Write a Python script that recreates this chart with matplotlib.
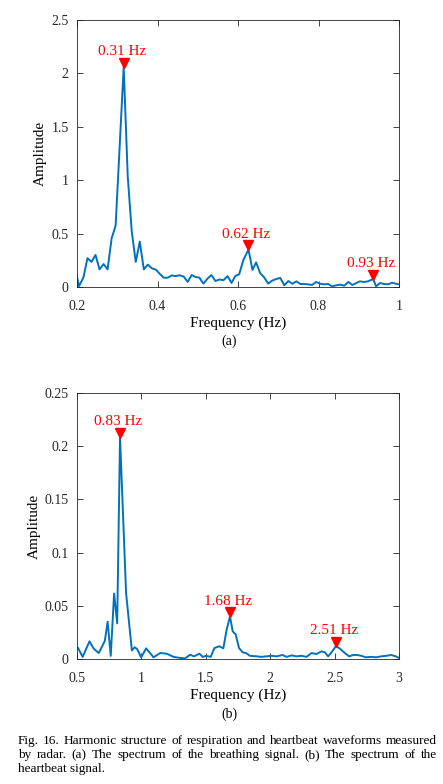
import numpy as np
import matplotlib
matplotlib.use('Agg')
import matplotlib.pyplot as plt
from matplotlib.transforms import offset_copy

plt.rcParams['font.family'] = ['Liberation Serif', 'DejaVu Serif']
plt.rcParams['mathtext.fontset'] = 'stix'

#%% (a) breathing spectrum
freq_a = [0.200, 0.205, 0.216, 0.226, 0.236, 0.246, 0.256, 0.266, 0.276, 0.286,
          0.296, 0.316, 0.326, 0.336, 0.346, 0.356, 0.366, 0.376, 0.386, 0.396,
          0.405, 0.415, 0.425, 0.435, 0.445, 0.455, 0.465, 0.475, 0.485, 0.494,
          0.504, 0.514, 0.524, 0.534, 0.544, 0.554, 0.564, 0.574, 0.584, 0.593,
          0.603, 0.613, 0.626, 0.636, 0.645, 0.655, 0.665, 0.675, 0.685, 0.695,
          0.705, 0.715, 0.725, 0.735, 0.745, 0.755, 0.764, 0.774, 0.784, 0.794,
          0.804, 0.814, 0.824, 0.834, 0.844, 0.854, 0.864, 0.874, 0.884, 0.894,
          0.903, 0.913, 0.923, 0.936, 0.943, 0.953, 0.963, 0.973, 0.983, 0.993,
          1.000]
amp_a = [0.095, 0.008, 0.090, 0.270, 0.235, 0.300, 0.165, 0.215, 0.165, 0.455,
         0.575, 2.060, 1.040, 0.520, 0.235, 0.425, 0.165, 0.210, 0.175, 0.162,
         0.125, 0.088, 0.086, 0.108, 0.102, 0.110, 0.098, 0.048, 0.112, 0.094,
         0.088, 0.032, 0.078, 0.112, 0.056, 0.070, 0.064, 0.102, 0.038, 0.102,
         0.120, 0.250, 0.350, 0.160, 0.230, 0.130, 0.090, 0.032, 0.060, 0.075,
         0.085, 0.016, 0.056, 0.030, 0.053, 0.028, 0.028, 0.025, 0.019, 0.047,
         0.030, 0.025, 0.028, 0.006, 0.016, 0.022, 0.012, 0.047, 0.019, 0.037,
         0.053, 0.047, 0.053, 0.075, 0.006, 0.037, 0.028, 0.025, 0.040, 0.030,
         0.025]
peaks_a = [0.316, 0.626, 0.936]
peak_labels_a = ['0.31 Hz', '0.62 Hz', '0.93 Hz']

#%% (b) heartbeat spectrum
freq_b = [0.500, 0.508, 0.544, 0.597, 0.629, 0.669, 0.716, 0.738, 0.762, 0.788,
          0.812, 0.834, 0.881, 0.926, 0.947, 0.967, 0.998, 1.037, 1.094, 1.146,
          1.197, 1.249, 1.300, 1.339, 1.378, 1.409, 1.450, 1.476, 1.502, 1.538,
          1.567, 1.605, 1.636, 1.662, 1.688, 1.709, 1.732, 1.758, 1.786, 1.812,
          1.843, 1.895, 1.933, 1.967, 2.011, 2.050, 2.096, 2.127, 2.166, 2.205,
          2.243, 2.282, 2.321, 2.360, 2.398, 2.424, 2.450, 2.476, 2.511, 2.545,
          2.579, 2.613, 2.644, 2.675, 2.708, 2.742, 2.786, 2.824, 2.863, 2.902,
          2.940, 2.974, 3.000]
amp_b = [0.0110, 0.0103, 0.0020, 0.0166, 0.0098, 0.0056, 0.0170, 0.0350, 0.0030, 0.0615,
         0.0335, 0.2085, 0.0620, 0.0080, 0.0110, 0.0094, 0.0016, 0.0100, 0.0016, 0.0056,
         0.0050, 0.0020, 0.0010, 0.0006, 0.0040, 0.0025, 0.0050, 0.0020, 0.0030, 0.0020,
         0.0103, 0.0120, 0.0100, 0.0276, 0.0400, 0.0260, 0.0230, 0.0103, 0.0063, 0.0056,
         0.0030, 0.0025, 0.0020, 0.0025, 0.0030, 0.0025, 0.0038, 0.0020, 0.0034, 0.0025,
         0.0030, 0.0020, 0.0056, 0.0047, 0.0072, 0.0063, 0.0025, 0.0063, 0.0122, 0.0094,
         0.0056, 0.0025, 0.0038, 0.0038, 0.0030, 0.0016, 0.0020, 0.0016, 0.0025, 0.0030,
         0.0038, 0.0025, 0.0010]
peaks_b = [0.834, 1.688, 2.511]
peak_labels_b = ['0.83 Hz', '1.68 Hz', '2.51 Hz']

caption = ['Fig. 16.  Harmonic structure of respiration and heartbeat waveforms measured',
           'by radar. (a) The spectrum of the breathing signal. (b) The spectrum of the',
           'heartbeat signal.']

W, H = 443, 784
fig = plt.figure(figsize=(W/100, H/100), dpi=100)
line_col = '#0072BD'


def spectrum(ax, f, a, peaks, labels, xlim, ylim, xticks, yticks, xtl, ytl):
    ax.plot(f, a, color=line_col, lw=1.4)
    mk_trans = offset_copy(ax.transData, fig=fig, y=3.2, units='points')
    for p, lab in zip(peaks, labels):
        pa = a[f.index(p)]
        ax.plot(p, pa, 'v', color='red', ms=7, transform=mk_trans, clip_on=False)
        ax.annotate(lab, (p, pa), xytext=(-1.5, 11), textcoords='offset points',
                    ha='center', va='center', color='red', fontsize=11)
    ax.set_xlim(xlim)
    ax.set_ylim(ylim)
    ax.set_xticks(xticks)
    ax.set_xticklabels(xtl)
    ax.set_yticks(yticks)
    ax.set_yticklabels(ytl)
    ax.tick_params(direction='in', top=True, right=True, length=4, width=0.6,
                   labelsize=10, colors='#262626')
    ax.tick_params(axis='x', pad=9)
    ax.tick_params(axis='y', pad=6)
    for s in ax.spines.values():
        s.set_linewidth(0.6)
        s.set_color('#262626')
    ax.set_xlabel('Frequency (Hz)', fontsize=11, labelpad=3)
    ax.set_ylabel('Amplitude', fontsize=11, labelpad=3)


ax1 = fig.add_axes([77/W, 1-287/H, 322/W, 267/H])
spectrum(ax1, freq_a, amp_a, peaks_a, peak_labels_a, (0.2, 1), (0, 2.5),
         [0.2, 0.4, 0.6, 0.8, 1], [0, 0.5, 1, 1.5, 2, 2.5],
         ['0.2', '0.4', '0.6', '0.8', '1'], ['0', '0.5', '1', '1.5', '2', '2.5'])

ax2 = fig.add_axes([77/W, 1-659/H, 322/W, 266/H])
spectrum(ax2, freq_b, amp_b, peaks_b, peak_labels_b, (0.5, 3), (0, 0.25),
         [0.5, 1, 1.5, 2, 2.5, 3], [0, 0.05, 0.1, 0.15, 0.2, 0.25],
         ['0.5', '1', '1.5', '2', '2.5', '3'], ['0', '0.05', '0.1', '0.15', '0.2', '0.25'])

fig.text(229/W, 1-341/H, '(a)', ha='center', va='center', fontsize=10)
fig.text(229/W, 1-714/H, '(b)', ha='center', va='center', fontsize=10)

#%% caption, first two lines justified
r = fig.canvas.get_renderer()
x0, x1 = 18, 437
for i, txt in enumerate(caption):
    y = 1 - (744 + 14*i)/H
    if i == len(caption) - 1:
        fig.text(x0/W, y, txt, fontsize=9.5, va='baseline')
        continue
    words = txt.split()
    objs = [fig.text(0, y, w, fontsize=9.5, va='baseline') for w in words]
    widths = [o.get_window_extent(r).width for o in objs]
    gap = ((x1 - x0) - sum(widths)) / (len(words) - 1)
    x = x0
    for o, w in zip(objs, widths):
        o.set_x(x/W)
        x += w + gap

fig.savefig('out.png', dpi=100)
